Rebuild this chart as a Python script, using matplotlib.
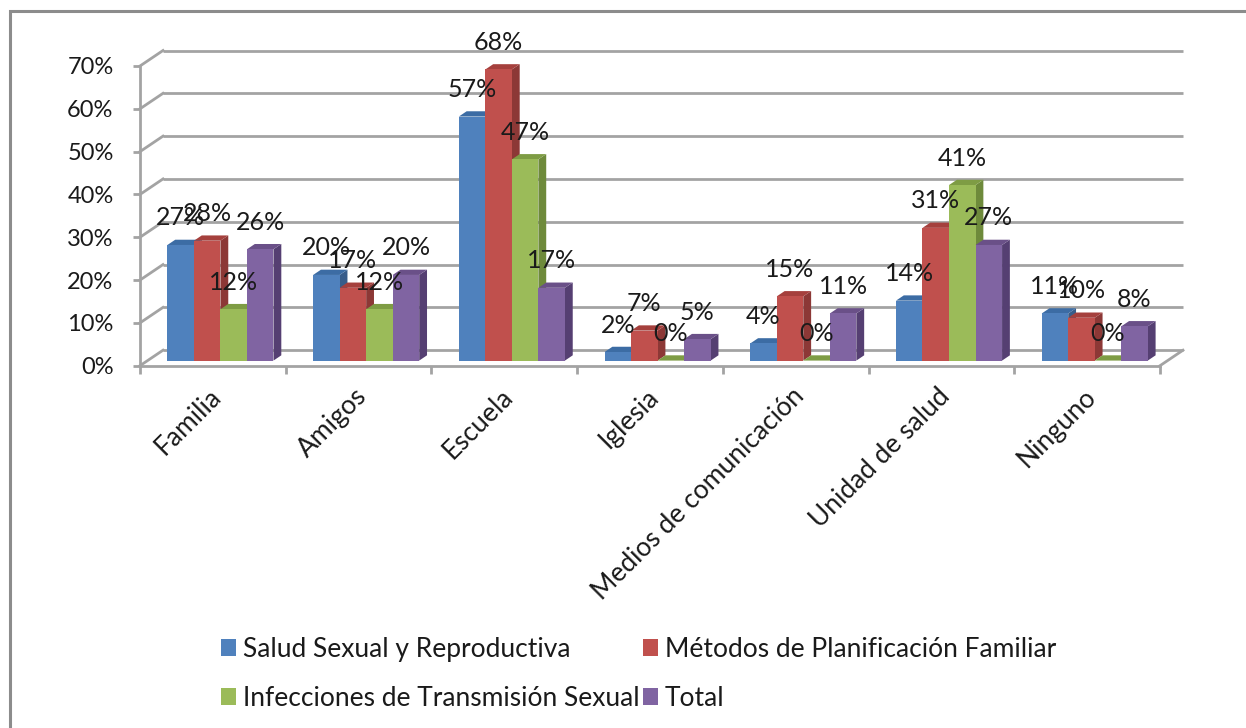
import matplotlib
matplotlib.use("Agg")
import matplotlib.pyplot as plt
from matplotlib.patches import Polygon, Patch, Rectangle
from matplotlib.ticker import PercentFormatter
from matplotlib.transforms import ScaledTranslation

plt.rcParams['font.family'] = ['Lato', 'DejaVu Sans']

categories = ["Familia", "Amigos", "Escuela", "Iglesia",
              "Medios de comunicación", "Unidad de salud", "Ninguno"]
series_names = ["Salud Sexual y Reproductiva",
                "Métodos de Planificación Familiar",
                "Infecciones de Transmisión Sexual",
                "Total"]
salud = [0.27, 0.20, 0.57, 0.02, 0.04, 0.14, 0.11]
metodos = [0.28, 0.17, 0.68, 0.07, 0.15, 0.31, 0.10]
infecciones = [0.12, 0.12, 0.47, 0.00, 0.00, 0.41, 0.00]
total = [0.26, 0.20, 0.17, 0.05, 0.11, 0.27, 0.08]
y_ticks = [0, 0.1, 0.2, 0.3, 0.4, 0.5, 0.6, 0.7]

series = [salud, metodos, infecciones, total]
# front, side and top shades for each series
colors = [("#4F81BD", "#385D8A", "#3C6CA4"),
          ("#C0504D", "#8C3836", "#A5403D"),
          ("#9BBB59", "#6E8A3B", "#7E9C44"),
          ("#8064A2", "#553F72", "#6A5088")]
grid_c = "#a3a3a3"
text_c = "#1a1a1a"

W, H = 1246, 728
fig = plt.figure(figsize=(W / 100, H / 100), dpi=100)
ax = fig.add_axes([140 / W, 1 - 365.7 / H, 1020 / W, 299.7 / H])
ax.set_xlim(0, len(categories))
ax.set_ylim(0, 0.7)

# depth of the box, in data units
ddx = 23 / (1020 / 7)
ddy = 15.5 / (299.7 / 0.7)
n = len(categories)

# back wall and left wall gridlines
for v in y_ticks:
    ax.plot([ddx, n + ddx], [v + ddy, v + ddy], color=grid_c, lw=2,
            zorder=1, clip_on=False, solid_capstyle='butt')
    ax.plot([0, ddx], [v, v + ddy], color=grid_c, lw=2, zorder=1,
            clip_on=False)
ax.plot([n, n + ddx], [0, ddy], color=grid_c, lw=2, zorder=1, clip_on=False)

# bars: front face at depth f0, back face at f1
bw = 0.182
f0, f1 = 0.33, 0.67
z = 3
for i in range(n):
    start = i + 0.5 - 2 * bw
    for s, vals in enumerate(series):
        v = vals[i]
        x0 = start + s * bw
        fx, fy = f0 * ddx, f0 * ddy
        bx, by = f1 * ddx, f1 * ddy
        front_c, side_c, top_c = colors[s]
        side = [(x0 + bw + fx, fy), (x0 + bw + bx, by),
                (x0 + bw + bx, v + by), (x0 + bw + fx, v + fy)]
        top = [(x0 + fx, v + fy), (x0 + bw + fx, v + fy),
               (x0 + bw + bx, v + by), (x0 + bx, v + by)]
        front = [(x0 + fx, fy), (x0 + bw + fx, fy),
                 (x0 + bw + fx, v + fy), (x0 + fx, v + fy)]
        ax.add_patch(Polygon(side, closed=True, fc=side_c, ec='none',
                             zorder=z, clip_on=False))
        ax.add_patch(Polygon(top, closed=True, fc=top_c, ec='none',
                             zorder=z, clip_on=False))
        ax.add_patch(Polygon(front, closed=True, fc=front_c, ec='none',
                             zorder=z + 0.5, clip_on=False))
        z += 1
        ax.annotate(f"{round(v * 100):d}%", (x0 + fx + bw / 2, v + fy),
                    xytext=(0, 27), textcoords='offset pixels',
                    ha='center', va='center', fontsize=18, color=text_c,
                    zorder=100, annotation_clip=False)

# axes lines and ticks
for side_name in ['top', 'right']:
    ax.spines[side_name].set_visible(False)
for side_name in ['left', 'bottom']:
    ax.spines[side_name].set_color(grid_c)
    ax.spines[side_name].set_linewidth(2)
    ax.spines[side_name].set_zorder(2)

ax.set_yticks(y_ticks)
ax.yaxis.set_major_formatter(PercentFormatter(1.0, decimals=0))
ax.tick_params(axis='y', length=5, width=2, color=grid_c, pad=14,
               labelsize=17, labelcolor=text_c)
ax.set_xticks(range(n + 1))
ax.set_xticklabels([])
ax.tick_params(axis='x', which='major', length=6, width=2, color=grid_c)
ax.set_xticks([i + 0.5 for i in range(n)], categories, minor=True)
ax.tick_params(axis='x', which='minor', length=0, pad=13,
               labelsize=19, labelcolor=text_c)
nudge = ScaledTranslation(-0.04, 0, fig.dpi_scale_trans)
for lbl in ax.get_xticklabels(minor=True):
    lbl.set_rotation(45)
    lbl.set_ha('right')
    lbl.set_rotation_mode('anchor')
    lbl.set_transform(lbl.get_transform() + nudge)

# legend
handles = [Patch(fc=colors[k][0], ec='none') for k in range(4)]
order = [0, 2, 1, 3]
fig.legend([handles[k] for k in order], [series_names[k] for k in order],
           ncol=2, loc='upper left', bbox_to_anchor=(221 / W, 1 - 637 / H),
           frameon=False, fontsize=19, handlelength=0.55, handleheight=0.6,
           handletextpad=0.27, columnspacing=0.15, labelspacing=0.9,
           borderpad=0, borderaxespad=0, labelcolor=text_c)

# chart border
fig.add_artist(Rectangle((10 / W, -0.1), 1.2, 1.1 - 11 / H,
                         transform=fig.transFigure, fill=False,
                         ec='#8c8c8c', lw=2.2))

fig.savefig("out.png", dpi=100)
